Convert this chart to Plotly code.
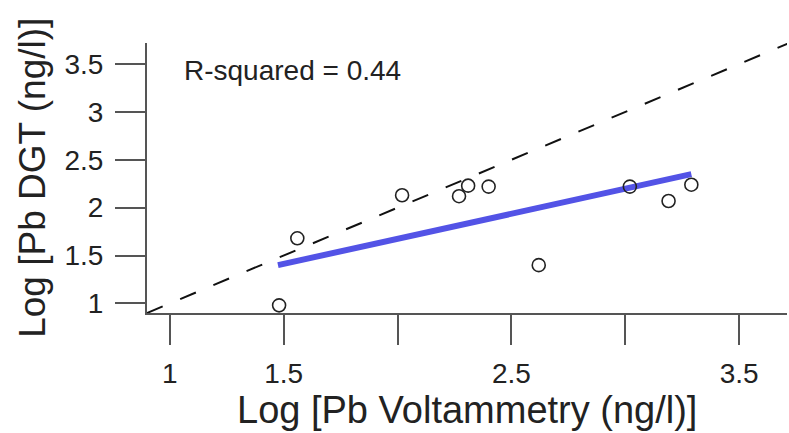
import plotly.graph_objects as go

# Data
pb_voltammetry = [1.48, 1.56, 2.02, 2.27, 2.31, 2.40, 2.62, 3.02, 3.19, 3.29]
pb_dgt = [0.98, 1.68, 2.13, 2.12, 2.23, 2.22, 1.40, 2.22, 2.07, 2.24]

fit_x = [1.475, 3.29]
fit_y = [1.40, 2.35]

one_to_one = [0.9, 3.75]

x_tickvals = [1, 1.5, 2, 2.5, 3, 3.5]
x_ticktext = ["1", "1.5", "", "2.5", "", "3.5"]
y_tickvals = [1, 1.5, 2, 2.5, 3, 3.5]
y_ticktext = ["1", "1.5", "2", "2.5", "3", "3.5"]

r_squared_label = "R-squared = 0.44"
x_title = "Log [Pb Voltammetry (ng/l)]"
y_title = "Log [Pb DGT (ng/l)]"

FONT = "Liberation Sans, Arial, sans-serif"

fig = go.Figure()

fig.add_trace(go.Scatter(
    x=one_to_one, y=one_to_one, mode="lines",
    line=dict(color="#111111", width=2, dash="17px,19px"),
    hoverinfo="skip", showlegend=False, cliponaxis=True,
))

fig.add_trace(go.Scatter(
    x=fit_x, y=fit_y, mode="lines",
    line=dict(color="#5353e6", width=6),
    showlegend=False,
))

fig.add_trace(go.Scatter(
    x=pb_voltammetry, y=pb_dgt, mode="markers",
    marker=dict(symbol="circle-open", size=13, color="#222222",
                line=dict(width=1.6, color="#222222")),
    showlegend=False,
))

axis_common = dict(
    showgrid=False, zeroline=False, showline=True,
    linecolor="#555555", linewidth=2,
    ticks="outside", ticklen=30, tickwidth=1.5, tickcolor="#555555",
    tickfont=dict(family=FONT, size=28, color="#222222"),
    tickmode="array",
)

fig.update_layout(
    width=789, height=433,
    margin=dict(l=147, r=2, t=43, b=120),
    paper_bgcolor="white", plot_bgcolor="white",
    xaxis=dict(range=[0.9, 3.71], tickvals=x_tickvals, ticktext=x_ticktext,
               ticklabelstandoff=4, **axis_common),
    yaxis=dict(range=[0.9, 3.72], tickvals=y_tickvals, ticktext=y_ticktext,
               ticklabelstandoff=6, **axis_common),
    annotations=[
        dict(text=r_squared_label, x=1.055, y=3.43, xref="x", yref="y",
             xanchor="left", yanchor="middle", showarrow=False,
             font=dict(family=FONT, size=28, color="#222222")),
        dict(text=x_title, x=0.5, y=-0.36, xref="paper", yref="paper",
             xanchor="center", yanchor="middle", showarrow=False,
             font=dict(family=FONT, size=38, color="#222222")),
        dict(text=y_title, x=-0.18, y=0.5, xref="paper", yref="paper",
             xanchor="center", yanchor="middle", showarrow=False, textangle=-90,
             font=dict(family=FONT, size=37, color="#222222")),
    ],
)

fig.write_html("out.html")
